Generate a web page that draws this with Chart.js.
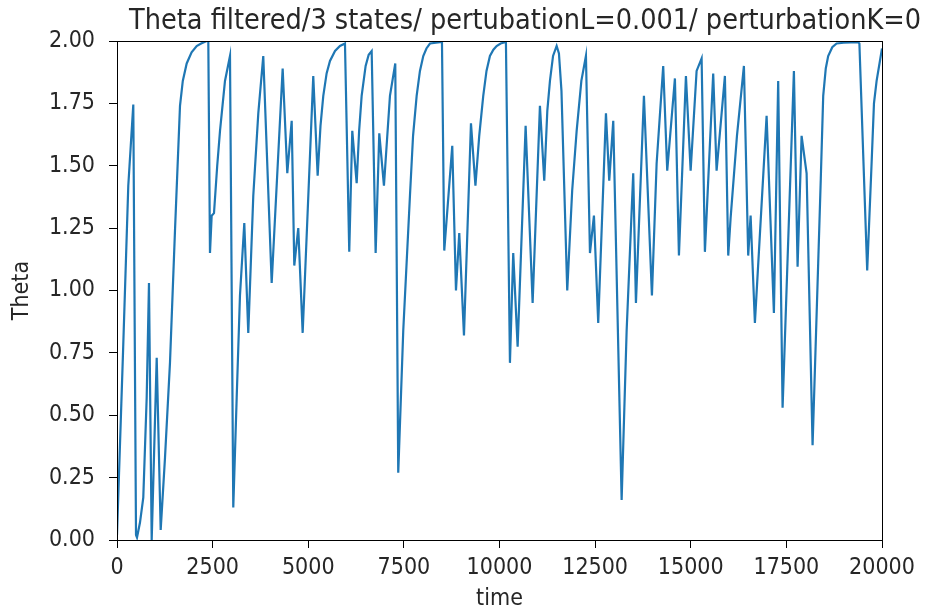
<!DOCTYPE html>
<html>
<head>
<meta charset="utf-8">
<script src="https://cdn.jsdelivr.net/npm/chart.js@4"></script>
<style>
  html, body { margin: 0; padding: 0; background: #fff; }
  #wrap { width: 927px; height: 614px; }
</style>
</head>
<body>
<div id="wrap"><canvas id="chart" width="927" height="614"></canvas></div>
<script>
// Data (time, theta)
const times = [
    0, 157, 295, 426, 497, 523, 601, 687, 776, 836, 907, 1038, 1142, 1255, 1385,
    1516, 1647, 1720, 1822, 1950, 2083, 2200, 2345, 2387, 2431, 2475, 2536, 2620, 2693,
    2823, 2954, 3040, 3129, 3215, 3328, 3432, 3563, 3694, 3824, 4044, 4331, 4452,
    4567, 4635, 4739, 4854, 5131, 5246, 5320, 5393, 5480, 5568, 5700, 5829, 5960,
    6072, 6151, 6266, 6330, 6396, 6500, 6580, 6658, 6762, 6857, 6979, 7136, 7275,
    7353, 7484, 7659, 7740, 7834, 7920, 8007, 8090, 8182, 8443, 8496, 8556, 8765,
    8862, 8948, 9071, 9254, 9371, 9470, 9575, 9660, 9750, 9840, 9925, 10030, 10142,
    10168, 10273, 10359, 10474, 10683, 10866, 11057, 11170, 11250, 11319, 11400,
    11494, 11554, 11620, 11771, 11900, 12017, 12140, 12260, 12365, 12469, 12581,
    12783, 12869, 12974, 13193, 13324, 13496, 13567, 13776, 13985, 14108, 14280,
    14385, 14586, 14691, 14874, 14997, 15153, 15284, 15370, 15587, 15676, 15893,
    15980, 16042, 16208, 16390, 16502, 16565, 16677, 16983, 17174, 17286, 17401,
    17697, 17793, 17898, 18029, 18185, 18332, 18400, 18463, 18530, 18593, 18700,
    18813, 19000, 19378, 19409, 19613, 19728, 19790, 19859, 20000
];
const theta = [
    0.02, 0.75, 1.42, 1.745, 0.02, 0.01, 0.07, 0.17, 0.57, 1.03, 0.0, 0.73, 0.04, 0.33, 0.71,
    1.24, 1.74, 1.84, 1.91, 1.955, 1.98, 1.99, 2.0, 2.0, 1.15, 1.30, 1.31, 1.50, 1.64,
    1.84, 1.94, 0.13, 0.57, 0.98, 1.27, 0.83, 1.38, 1.71, 1.94, 1.03, 1.89, 1.47,
    1.68, 1.10, 1.25, 0.83, 1.86, 1.46, 1.66, 1.78, 1.87, 1.92, 1.96, 1.98, 1.99,
    1.155, 1.64, 1.43, 1.64, 1.78, 1.90, 1.945, 1.96, 1.15, 1.63, 1.42, 1.78, 1.91,
    0.27, 0.84, 1.38, 1.62, 1.78, 1.88, 1.94, 1.97, 1.99, 1.995, 1.995, 1.16, 1.58,
    1.00, 1.23, 0.82, 1.67, 1.42, 1.62, 1.78, 1.88, 1.94, 1.965, 1.98, 1.99, 1.995,
    1.995, 0.71, 1.15, 0.775, 1.66, 0.95, 1.74, 1.44, 1.72, 1.84, 1.94,
    1.98, 1.95, 1.80, 1.00, 1.40, 1.64, 1.84, 1.94, 1.15, 1.30, 0.87,
    1.71, 1.44, 1.68, 0.16, 0.84, 1.47, 0.95, 1.78, 0.98, 1.51, 1.90,
    1.48, 1.85, 1.14, 1.86, 1.48, 1.88, 1.93, 1.155, 1.87, 1.48, 1.86,
    1.14, 1.29, 1.62, 1.90, 1.14, 1.30, 0.87, 1.70, 0.91, 1.84, 0.53,
    1.88, 1.095, 1.62, 1.47, 0.38, 1.11, 1.45, 1.78, 1.89, 1.94, 1.975,
    1.99, 1.993, 1.995, 1.99, 1.08, 1.51, 1.75, 1.84, 1.97
];
const xTicks = [0, 2500, 5000, 7500, 10000, 12500, 15000, 17500, 20000];
const yTicks = [0, 0.25, 0.5, 0.75, 1.0, 1.25, 1.5, 1.75, 2.0];
const chartTitle = "Theta filtered/3 states/ pertubationL=0.001/ perturbationK=0";

const FONT = "'DejaVu Sans Condensed', 'DejaVu Sans', sans-serif";
const TEXT = "#262626";

// box round the plot and the title, drawn by hand so it can sit off-centre like the original
const framePlugin = {
    id: "frame",
    afterDraw(chart) {
        const { ctx, chartArea: a } = chart;
        ctx.save();
        ctx.strokeStyle = "#000";
        ctx.lineWidth = 1;
        ctx.strokeRect(a.left + 0.5, a.top + 0.5, a.right - a.left, a.bottom - a.top);
        ctx.fillStyle = TEXT;
        ctx.font = "28.5px " + FONT;
        ctx.textAlign = "right";
        ctx.textBaseline = "alphabetic";
        ctx.fillText(chartTitle, 921, 29);
        ctx.restore();
    }
};

const points = times.map((t, i) => ({ x: t, y: theta[i] }));

new Chart(document.getElementById("chart").getContext("2d"), {
    type: "line",
    data: {
        datasets: [{
            data: points,
            borderColor: "#1f77b4",
            borderWidth: 2.2,
            pointRadius: 0,
            tension: 0,
            fill: false
        }]
    },
    options: {
        responsive: false,
        animation: false,
        layout: { padding: { left: 0, right: 45, top: 41, bottom: 0 } },
        plugins: {
            legend: { display: false },
            tooltip: { enabled: false },
            title: { display: false }
        },
        scales: {
            x: {
                type: "linear",
                min: 0,
                max: 20000,
                afterBuildTicks: s => { s.ticks = xTicks.map(v => ({ value: v })); },
                afterFit: s => { s.height = 74; },
                grid: { drawOnChartArea: false, drawTicks: true, tickLength: 8, color: "#000" },
                border: { display: true, color: "#000" },
                ticks: { color: TEXT, font: { family: FONT, size: 23 }, padding: 6, maxRotation: 0, callback: v => String(v) },
                title: { display: true, text: "time", color: TEXT, font: { family: FONT, size: 23 }, padding: { top: 0, bottom: 1 } }
            },
            y: {
                min: 0,
                max: 2,
                afterBuildTicks: s => { s.ticks = yTicks.map(v => ({ value: v })); },
                afterFit: s => { s.width = 117; },
                grid: { drawOnChartArea: false, drawTicks: true, tickLength: 8, color: "#000" },
                border: { display: true, color: "#000" },
                ticks: { color: TEXT, font: { family: FONT, size: 23 }, padding: 14, callback: v => v.toFixed(2) },
                title: { display: true, text: "Theta", color: TEXT, font: { family: FONT, size: 23 }, padding: { top: 8, bottom: 0 } }
            }
        }
    },
    plugins: [framePlugin]
});
</script>
</body>
</html>
